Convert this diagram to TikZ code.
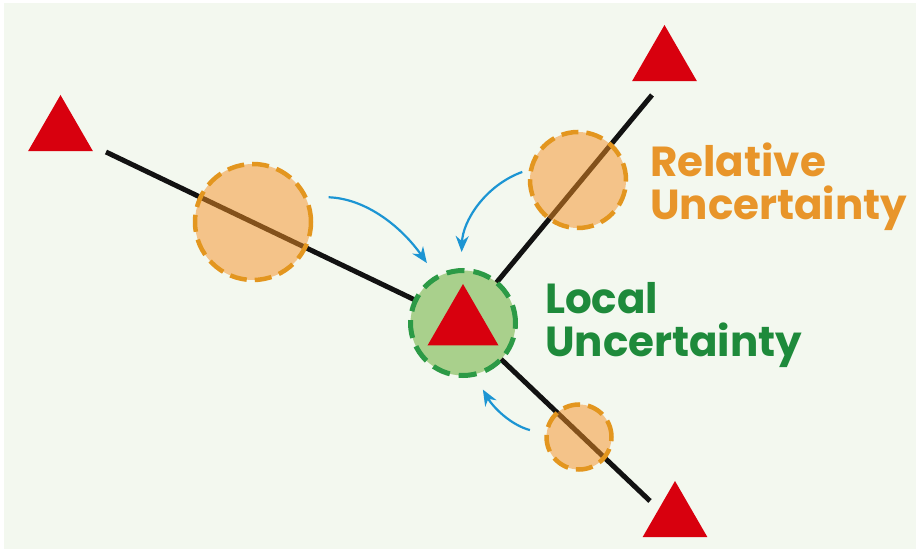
\documentclass[tikz,border=0pt]{standalone}
\usepackage{fontspec}
\setmainfont{Poppins}
\usepackage{xcolor}
\usetikzlibrary{arrows.meta,shapes.geometric,positioning}

\definecolor{paper}{HTML}{F3F8EF}
\definecolor{stationred}{HTML}{D8000E}
\definecolor{relfill}{HTML}{F59025}
\definecolor{reledge}{HTML}{E3961F}
\definecolor{locfill}{HTML}{A9D08C}
\definecolor{locedge}{HTML}{2C9A46}
\definecolor{loctext}{HTML}{1E8A3B}
\definecolor{reltext}{HTML}{E8952A}
\definecolor{flowblue}{HTML}{1C95D3}

\begin{document}
\begin{tikzpicture}[
    x=1pt, y=1pt,
    station/.style={regular polygon, regular polygon sides=3, fill=stationred,
        inner sep=0, outer sep=0, minimum size=#1},
    station/.default=75,
    link/.style={draw=black!93, line width=5},
    reldisk/.style={circle, inner sep=0, minimum size=#1, fill=relfill, fill opacity=0.5,
        draw=reledge, line width=4.5, dash pattern=on 17pt off 8pt},
    locdisk/.style={circle, inner sep=0, minimum size=105, fill=locfill,
        draw=locedge, line width=5, dash pattern=on 18pt off 9pt},
    flow/.style={draw=flowblue, line width=2.2, -{Stealth[length=16pt,width=13pt]}},
    caption/.style={anchor=base west, align=left, inner sep=0,
        font=\bfseries\fontsize{42}{43}\selectfont}
]
\useasboundingbox (0,0) rectangle (916,549);
\fill[white] (0,0) rectangle (916,549);
\fill[paper] (4,0) rectangle (916,546);

\coordinate (locC) at (463,226);
\coordinate (tlEnd) at (106,397);
\coordinate (trEnd) at (652,454);
\coordinate (brEnd) at (650,48);

\draw[link] (tlEnd) -- (locC);
\draw[link] (trEnd) -- (locC);
\draw[link] (brEnd) -- (locC);

\node[reldisk=116] (relA) at (253,327) {};
\node[reldisk=96]  (relB) at (578,369) {};
\node[reldisk=65]  (relC) at (579,112) {};

\node[locdisk] (loc) at (locC) {};
\node[station=82] (center) at (463,224) {};

\node[station] (tlTri) at (60.5,416.5) {};
\node[station] (trTri) at (664.5,486.5) {};
\node[station] (brTri) at (675,30.5) {};

\draw[flow, shorten <=21pt, shorten >=15pt] (relA.25) to[out=-2, in=125] (loc.120);
\draw[flow, shorten <=7pt, shorten >=16pt] (relB.168) to[out=200, in=88] (loc.92);
\draw[flow, shorten <=15pt, shorten >=15pt] (relC.175) to[out=165, in=-60] (loc.-77);

% anchor sits on the baseline of the second line
\node[caption, text=reltext] (relLabel) at (650,329) {Relative\\Uncertainty};
\node[caption, text=loctext] (locLabel) at (545,192) {Local\\Uncertainty};
\end{tikzpicture}
\end{document}
